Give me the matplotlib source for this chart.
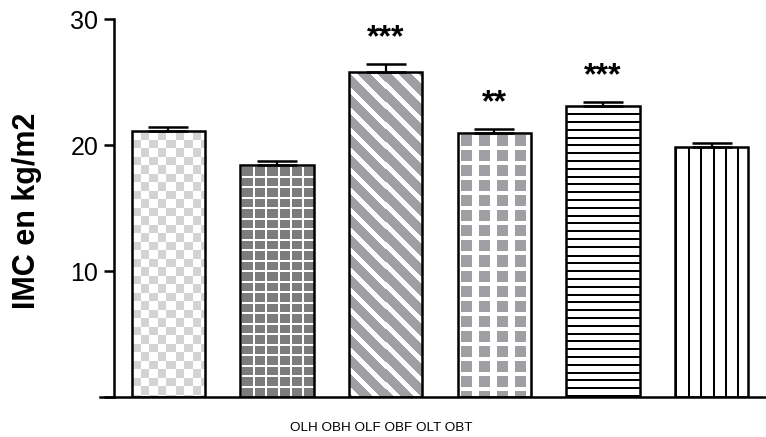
import numpy as np
import matplotlib
matplotlib.use("Agg")
import matplotlib.pyplot as plt

groups = ["OLH", "OBH", "OLF", "OBF", "OLT", "OBT"]
imc_mean = [21.1, 18.4, 25.8, 21.0, 23.15, 19.9]
imc_sem = [0.32, 0.32, 0.67, 0.32, 0.27, 0.29]
stars = ["", "", "***", "**", "***", ""]
patterns = ["checker", "grid", "diag", "squares", "hlines", "vlines"]

plt.rcParams["font.family"] = ["Liberation Sans", "DejaVu Sans"]


def texture(kind, w, h):
    # pixel texture for one bar, row 0 = top of the bar
    yy, xx = np.mgrid[0:h, 0:w].astype(float)
    img = np.ones((h, w, 3))
    if kind == "checker":
        mask = ((xx // 8.5 + yy // 8.5) % 2) == 1
        img[mask] = [0.83, 0.83, 0.83]
    elif kind == "grid":
        img[:] = [0.49, 0.49, 0.49]
        mask = (xx % 12.1 < 2) | (yy % 10.5 < 2)
        img[mask] = [1, 1, 1]
    elif kind == "diag":
        img[:] = [0.62, 0.62, 0.64]
        mask = ((xx - yy) % 20) < 7
        img[mask] = [1, 1, 1]
    elif kind == "squares":
        mask = (xx % 17.5 >= 3) & (xx % 17.5 < 14) & (yy % 15 >= 3) & (yy % 15 < 13.5)
        img[mask] = [0.62, 0.62, 0.64]
    elif kind == "hlines":
        mask = (yy % 7.8) < 2
        img[mask] = [0, 0, 0]
    elif kind == "vlines":
        mask = (xx % 12.2) < 2
        img[mask] = [0, 0, 0]
    return img


fig = plt.figure(figsize=(7.66, 4.37), dpi=100)
ax = fig.add_axes([114 / 766, 40 / 437, 652 / 766, 377.5 / 437])

x = np.arange(len(groups))
width = 0.672
bars = ax.bar(x, imc_mean, width, facecolor="none", edgecolor="black",
              linewidth=1.8, zorder=3)

px_x = ax.bbox.width / 6
px_y = ax.bbox.height / 30
for i, b in enumerate(bars):
    w = int(round(width * px_x))
    h = int(round(imc_mean[i] * px_y))
    im = ax.imshow(texture(patterns[i], w, h),
                   extent=(x[i] - width / 2, x[i] + width / 2, 0, imc_mean[i]),
                   aspect="auto", interpolation="nearest", zorder=2)
    im.set_clip_path(b)

ax.errorbar(x, imc_mean, yerr=[np.zeros(len(x)), imc_sem], fmt="none",
            ecolor="black", elinewidth=1.6, capsize=14.4, capthick=1.8, zorder=4)

for i, s in enumerate(stars):
    if s:
        ax.text(x[i], imc_mean[i] + imc_sem[i] + 1.4, s, ha="center", va="baseline",
                fontsize=23, fontweight="bold")

ax.set_xlim(-0.5, 5.5)
ax.set_ylim(0, 30)
ax.set_xticks([])
ax.set_yticks([0, 10, 20, 30])
ax.set_yticklabels(["", "10", "20", "30"])
ax.tick_params(axis="y", direction="out", length=7.2, width=1.8, labelsize=18, pad=4)

ax.spines["top"].set_visible(False)
ax.spines["right"].set_visible(False)
ax.spines["left"].set_linewidth(1.8)
ax.spines["bottom"].set_linewidth(1.8)
ax.spines["bottom"].set_bounds(-0.629, 5.5)

ax.set_ylabel("IMC en kg/m2", fontsize=22, fontweight="bold")
ax.yaxis.set_label_coords(-0.110, 0.493)

fig.text(381 / 766, 1 - 428 / 437, " ".join(groups), ha="center", va="center",
         fontsize=9.7)

fig.savefig("out.png", dpi=100)
